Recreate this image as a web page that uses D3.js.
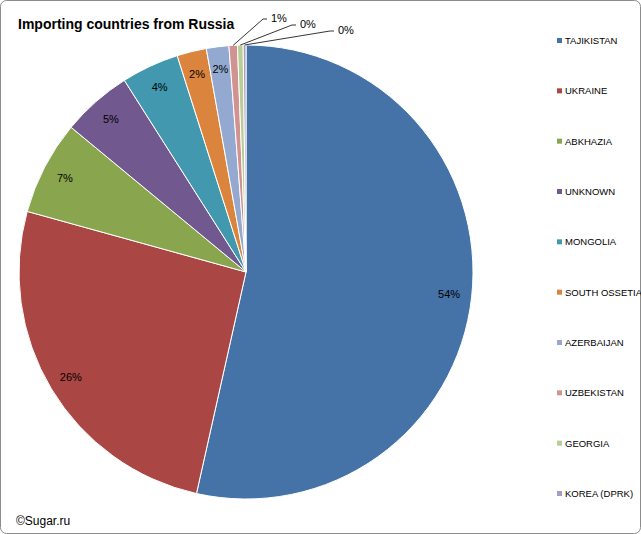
<!DOCTYPE html>
<html><head><meta charset="utf-8">
<script src="https://cdn.jsdelivr.net/npm/d3@7"></script>
<style>body{margin:0;background:#fff;font-family:"Liberation Sans",Arial,sans-serif;}</style>
</head><body>
<script>
const countries = ['TAJIKISTAN','UKRAINE','ABKHAZIA','UNKNOWN','MONGOLIA','SOUTH OSSETIA','AZERBAIJAN','UZBEKISTAN','GEORGIA','KOREA (DPRK)'];
const shares = [53.5, 25.8, 6.7, 5.0, 4.1, 2.1, 1.6, 0.6, 0.4, 0.2];
const colors = ['#4572A7','#AA4643','#89A54E','#71588F','#4198AF','#DB843D','#93A9CF','#D19392','#B9CD96','#A99BBD'];

const W = 641, H = 534, cx = 246, cy = 272, R = 227;
const svg = d3.select('body').append('svg').attr('width', W).attr('height', H);

svg.append('rect').attr('x', 0.5).attr('y', 0.5).attr('width', W - 1).attr('height', H - 1)
    .attr('rx', 6).attr('fill', '#fff').attr('stroke', '#8c8c8c');

svg.append('text').attr('x', 18).attr('y', 29).attr('font-size', 14).attr('font-weight', 'bold')
    .text('Importing countries from Russia');
svg.append('text').attr('x', 16).attr('y', 525).attr('font-size', 12).text('©Sugar.ru');

const pie = d3.pie().sort(null).value(d => d);
const arcs = pie(shares);
const arc = d3.arc().innerRadius(0).outerRadius(R);
const g = svg.append('g').attr('transform', `translate(${cx},${cy})`);

g.selectAll('path').data(arcs).enter().append('path')
    .attr('d', arc).attr('fill', (d, i) => colors[i])
    .attr('stroke', '#fff').attr('stroke-width', 1);

const fmt = v => Math.round(v) + '%';
const inner = d3.arc().innerRadius(R * 0.9).outerRadius(R * 0.9);
// slices too thin get a label outside with a leader line
const outsidePos = {7: [271, 17], 8: [300, 23], 9: [338, 29]};

arcs.forEach((d, i) => {
    if (outsidePos[i]) {
        const a = (d.startAngle + d.endAngle) / 2;
        const sx = cx + Math.sin(a) * R, sy = cy - Math.cos(a) * R;
        const [lx, ly] = outsidePos[i];
        svg.append('path').attr('fill', 'none').attr('stroke', '#000').attr('stroke-width', 0.8)
            .attr('d', `M${sx},${sy}L${lx - 8},${ly + 2}L${lx - 4},${ly + 2}`);
        svg.append('text').attr('x', lx).attr('y', ly + 5).attr('font-size', 11).text(fmt(shares[i]));
    } else {
        const [x, y] = inner.centroid(d);
        g.append('text').attr('x', x).attr('y', y + 4).attr('text-anchor', 'middle')
            .attr('font-size', 11).text(fmt(shares[i]));
    }
});

const ly = d3.scalePoint().domain(countries).range([41, 494]);
const leg = svg.append('g').selectAll('g').data(countries).enter().append('g')
    .attr('transform', d => `translate(557,${ly(d)})`);
leg.append('rect').attr('x', 0).attr('y', -3).attr('width', 5).attr('height', 5)
    .attr('fill', (d, i) => colors[i]);
leg.append('text').attr('x', 8).attr('y', 3).attr('font-size', 9.5).text(d => d);
</script>
</body></html>
